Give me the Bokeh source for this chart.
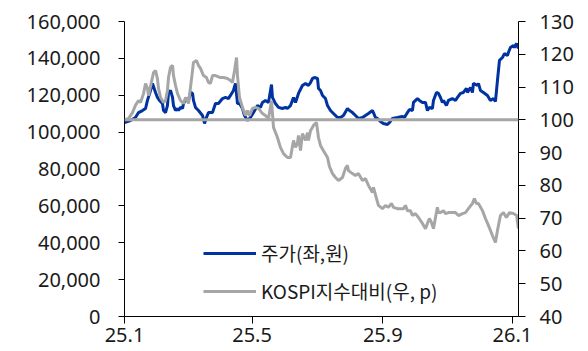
from bokeh.plotting import figure
from bokeh.models import (Range1d, LinearAxis, FixedTicker, NumeralTickFormatter,
                          Span, Legend, LegendItem, ColumnDataSource)
from bokeh.embed import file_html
from bokeh.resources import INLINE

# ---- data (x = days since 2025-01-01) ----
X_TICK_DAYS = [0, 120, 243, 365]
X_TICK_LABELS = ["25.1", "25.5", "25.9", "26.1"]
LEFT_TICKS = [0, 20000, 40000, 60000, 80000, 100000, 120000, 140000, 160000]
RIGHT_TICKS = [40, 50, 60, 70, 80, 90, 100, 110, 120, 130]
BASELINE = 100

price_day = [0, 5.6, 10.3, 13.2, 16.9, 19.8, 21.6, 24.5, 26.3, 29.2, 31.0, 32.9, 35.7, 36.7, 38.6,
             40.4, 41.4, 43.3, 45.2, 46.1, 48.0, 49.9, 50.8, 52.7, 54.6, 55.5, 57.4, 59.3, 60.2,
             62.1, 64.0, 64.9, 66.8, 69.6, 73.4, 75.3, 77.1, 79.0, 82.8, 85.6, 88.4, 92.2, 95.0,
             97.8, 99.7, 102.5, 104.4, 106.3, 108.2, 111.0, 112.9, 115.7, 118.5, 121.4, 125.1,
             127.9, 129.8, 132.6, 135.5, 138.3, 139.2, 142.0, 144.9, 148.6, 151.5, 153.3, 156.2,
             159.0, 160.9, 163.7, 167.4, 170.3, 173.1, 175.0, 176.9, 178.7, 181.6, 182.5, 184.4,
             186.3, 189.1, 191.0, 193.8, 196.6, 200.4, 203.2, 206.0, 209.8, 211.7, 214.5, 217.3,
             220.1, 223.9, 226.7, 229.5, 233.3, 234.2, 236.1, 238.0, 240.8, 243.6, 247.4, 249.3,
             252.1, 256.8, 261.5, 263.4, 266.2, 268.1, 270.9, 271.9, 275.6, 277.5, 280.3, 283.2,
             285.0, 286.9, 289.7, 290.7, 293.5, 295.4, 297.3, 299.1, 300.1, 302.9, 304.8, 308.5,
             311.4, 313.3, 316.1, 318.9, 321.7, 322.7, 325.5, 327.4, 328.3, 332.1, 333.0, 334.9,
             337.7, 341.5, 344.3, 347.1, 349.0, 350.9, 352.8, 355.6, 357.5, 360.3, 361.2, 363.1,
             365.9, 366.9, 368.8, 370.6]
price = [105200, 106300, 107900, 110600, 111700, 112800, 117200, 122600, 126400, 121500, 118800,
         117200, 115500, 111700, 110600, 114400, 121500, 122600, 118800, 114400, 111700, 112800,
         111700, 113400, 112800, 115500, 117200, 118200, 117200, 121500, 121000, 117200, 113400,
         111700, 109000, 104700, 107900, 110600, 110600, 115500, 115500, 118200, 118800, 118200,
         119900, 122600, 126400, 115500, 115500, 112800, 109000, 106300, 107900, 110600, 114400,
         113400, 116100, 117200, 116100, 125800, 118800, 115500, 113400, 112800, 113400, 112800,
         114400, 118800, 116100, 121000, 125300, 126400, 125300, 126900, 129100, 129600, 129100,
         123700, 122600, 119900, 118200, 114400, 111700, 110100, 107900, 107900, 109000, 112800,
         111700, 110600, 109000, 107400, 107900, 109000, 110100, 111700, 110600, 107900, 107400,
         105800, 104700, 104100, 105200, 107400, 107900, 108500, 107900, 110600, 112300, 111700,
         116100, 118200, 117200, 116100, 116100, 111700, 113400, 112800, 117200, 121500, 121000,
         118800, 116100, 117200, 114400, 117200, 118200, 117200, 118800, 121000, 121500, 123700,
         121500, 124200, 121500, 126400, 125300, 126400, 122600, 121500, 119900, 117200, 118200,
         116600, 128000, 138900, 140500, 142600, 141600, 143200, 145900, 147000, 145900, 148100,
         145400]

rel_day = [0, 3.8, 7.5, 10.3, 13.2, 15.1, 17.9, 19.8, 21.6, 22.6, 26.3, 27.3, 29.2, 31.0, 32.0,
           33.9, 36.7, 38.6, 40.4, 41.4, 43.3, 45.2, 46.1, 48.0, 49.9, 52.7, 55.5, 57.4, 59.3,
           60.2, 62.1, 64.0, 64.9, 67.7, 69.6, 71.5, 74.3, 77.1, 79.0, 80.9, 82.8, 85.6, 90.3,
           93.1, 96.9, 99.7, 101.6, 103.5, 105.4, 106.3, 108.2, 111.0, 113.8, 115.7, 117.6,
           120.4, 123.2, 126.1, 129.8, 132.6, 135.5, 138.3, 140.2, 143.9, 146.7, 149.6, 153.3,
           156.2, 159.0, 160.9, 162.7, 163.7, 165.6, 167.4, 170.3, 172.2, 173.1, 175.0, 177.8,
           180.6, 182.5, 184.4, 187.2, 191.0, 192.8, 195.7, 198.5, 201.3, 205.1, 207.9, 209.8,
           210.7, 214.5, 217.3, 220.1, 223.9, 226.7, 229.5, 233.3, 234.2, 237.1, 238.9, 242.7,
           245.5, 248.3, 251.2, 253.0, 256.8, 262.5, 264.3, 266.2, 269.0, 270.9, 273.7, 276.6,
           280.3, 283.2, 285.0, 286.9, 288.8, 290.7, 292.6, 294.4, 295.4, 297.3, 300.1, 302.0,
           304.8, 308.5, 311.4, 314.2, 318.0, 320.8, 323.6, 327.4, 329.2, 331.1, 333.0, 336.8,
           339.6, 342.4, 346.2, 349.0, 350.9, 353.7, 356.5, 359.3, 362.2, 365.9, 369.0, 370.6]
rel_index = [100.0, 100.4, 102.2, 104.4, 105.9, 105.3, 108.0, 111.1, 109.6, 107.4, 112.9, 114.4,
             115.0, 112.6, 109.6, 106.8, 105.3, 105.9, 108.9, 112.9, 116.0, 116.6, 113.5, 110.5,
             108.0, 105.9, 105.0, 106.8, 105.9, 105.0, 109.9, 115.0, 117.5, 118.1, 116.6, 115.7,
             113.5, 112.9, 111.4, 111.1, 113.5, 113.5, 112.9, 112.9, 112.6, 112.0, 111.4, 115.0,
             119.0, 113.5, 106.8, 103.8, 101.3, 102.8, 101.3, 103.5, 103.8, 103.5, 101.9, 101.3,
             100.4, 105.9, 97.7, 94.6, 91.6, 89.7, 88.5, 88.5, 93.7, 91.6, 92.8, 95.2, 90.6, 95.8,
             93.7, 96.1, 93.7, 96.7, 98.3, 99.2, 94.6, 92.2, 90.6, 88.5, 85.8, 83.6, 82.4, 81.5,
             82.4, 85.2, 86.1, 84.5, 83.6, 83.0, 83.6, 81.5, 82.1, 80.0, 77.8, 79.4, 76.0, 73.9,
             72.9, 73.9, 73.3, 74.5, 73.3, 72.9, 72.9, 73.9, 72.3, 72.3, 70.8, 71.4, 70.2, 68.4,
             66.8, 68.4, 69.9, 68.7, 66.8, 70.2, 73.3, 71.7, 71.7, 72.3, 71.4, 71.7, 71.7, 71.7,
             70.8, 71.4, 71.7, 72.9, 74.5, 76.0, 74.5, 74.5, 72.3, 69.9, 67.8, 64.7, 62.6, 66.2,
             70.8, 71.7, 70.2, 71.7, 71.4, 70.8, 66.8]

PRICE_LABEL = "주가(좌,원)"
REL_LABEL = "KOSPI지수대비(우, p)"

BLUE = "#0033A0"
GRAY = "#A6A6A6"
TEXT = "#1a1a1a"

p = figure(width=588, height=351, output_backend="svg", toolbar_location=None,
           x_range=Range1d(0, 370.7), y_range=Range1d(0, 160000),
           min_border_left=124, min_border_right=70, min_border_top=21, min_border_bottom=35)
p.extra_y_ranges = {"right": Range1d(40, 130)}
p.grid.visible = False
p.outline_line_color = None


def style(ax, tick_out, standoff):
    ax.axis_line_color = "#000000"
    ax.axis_line_width = 1
    ax.major_tick_line_color = "#000000"
    ax.major_tick_in = 0
    ax.major_tick_out = tick_out
    ax.minor_tick_in = 0
    ax.minor_tick_out = 0
    ax.major_label_text_font = "Noto Sans"
    ax.major_label_text_font_size = "20px"
    ax.major_label_text_color = TEXT
    ax.major_label_standoff = standoff


yl = p.yaxis[0]
yl.ticker = FixedTicker(ticks=LEFT_TICKS)
yl.formatter = NumeralTickFormatter(format="0,0")
style(yl, 6, 18)

yr = LinearAxis(y_range_name="right", ticker=FixedTicker(ticks=RIGHT_TICKS))
style(yr, 7, 14)
p.add_layout(yr, "right")

xa = p.xaxis[0]
xa.ticker = FixedTicker(ticks=X_TICK_DAYS)
xa.major_label_overrides = {d: l for d, l in zip(X_TICK_DAYS, X_TICK_LABELS)}
style(xa, 7, 4)

src_p = ColumnDataSource(dict(x=price_day, y=price))
src_r = ColumnDataSource(dict(x=rel_day, y=rel_index))

r_price = p.line("x", "y", source=src_p, line_color=BLUE, line_width=3)
r_rel = p.line("x", "y", source=src_r, line_color=GRAY, line_width=3, y_range_name="right")
p.add_layout(Span(location=BASELINE, dimension="width", y_range_name="right",
                  line_color=GRAY, line_width=3))

legend = Legend(items=[LegendItem(label=PRICE_LABEL, renderers=[r_price]),
                       LegendItem(label=REL_LABEL, renderers=[r_rel])],
                location=(79, 12), border_line_color=None, background_fill_alpha=0,
                padding=0, margin=0, spacing=11, label_height=20, glyph_height=20,
                glyph_width=53, label_standoff=5, label_text_font_size="19px",
                label_text_font="Noto Sans CJK KR", label_text_color=TEXT)
p.add_layout(legend)

open("out.html", "w").write(file_html(p, INLINE))
